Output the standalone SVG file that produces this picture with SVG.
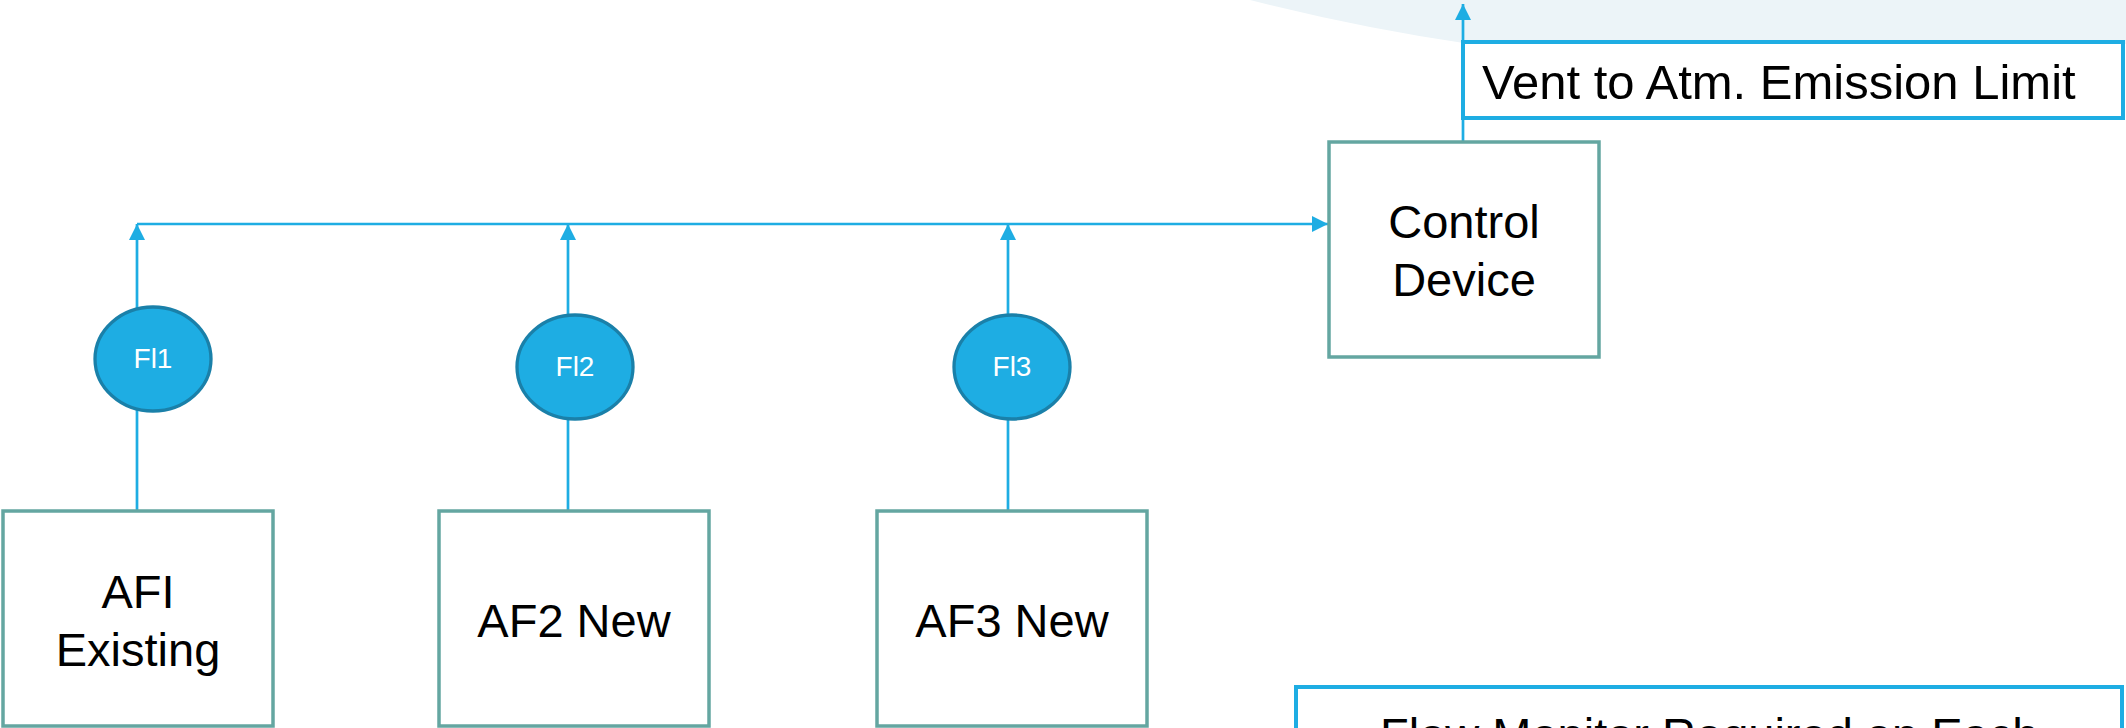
<svg xmlns="http://www.w3.org/2000/svg" width="2126" height="728" viewBox="0 0 2126 728">
  <style>
    .box { fill: #ffffff; stroke: #64a6a1; stroke-width: 3.5; }
    .note { fill: #ffffff; stroke: #1eade3; stroke-width: 4; }
    .meter { fill: #1eade3; stroke: #1a80a9; stroke-width: 3.3; }
    .flow { fill: none; stroke: #1eade3; stroke-width: 2.7; }
    .lbl { font-family: "Liberation Sans", Arial, sans-serif; font-size: 47px; fill: #000000; text-anchor: middle; }
    .note-txt { font-family: "Liberation Sans", Arial, sans-serif; font-size: 49px; fill: #000000; }
    .bullet-txt { font-family: "Liberation Sans", Arial, sans-serif; font-size: 47px; fill: #000000; }
    .meter-txt { font-family: "Liberation Sans", Arial, sans-serif; font-size: 28px; fill: #ffffff; text-anchor: middle; }
  </style>
  <defs>
    <marker id="arrow" viewBox="0 0 10 10" refX="10" refY="5" markerWidth="16" markerHeight="16" markerUnits="userSpaceOnUse" orient="auto">
      <path d="M0,0 L10,5 L0,10 z" fill="#1eade3"/>
    </marker>
  </defs>

  <rect width="2126" height="728" fill="#ffffff"/>
  <!-- soft background swoosh, top right -->
  <path d="M1250,0 Q1360,28 1470,44 L2126,44 L2126,0 Z" fill="#ecf4f8"/>

  <g id="connectors">
    <line class="flow" x1="137" y1="511" x2="137" y2="224" marker-end="url(#arrow)"/>
    <line class="flow" x1="568" y1="511" x2="568" y2="224" marker-end="url(#arrow)"/>
    <line class="flow" x1="1008" y1="511" x2="1008" y2="224" marker-end="url(#arrow)"/>
    <line class="flow" x1="137" y1="224" x2="1328" y2="224" marker-end="url(#arrow)"/>
    <line class="flow" x1="1463" y1="142" x2="1463" y2="4" marker-end="url(#arrow)"/>
  </g>

  <g id="vent-limit">
    <rect class="note" x="1463" y="42" width="660" height="76"/>
    <text class="note-txt" x="1482" y="99">Vent to Atm. Emission Limit</text>
  </g>

  <g id="control-device">
    <rect class="box" x="1329" y="142" width="270" height="215"/>
    <text class="lbl" x="1464" y="238">Control</text>
    <text class="lbl" x="1464" y="296">Device</text>
  </g>

  <g id="af1">
    <rect class="box" x="3" y="511" width="270" height="215"/>
    <text class="lbl" x="138" y="608">AFI</text>
    <text class="lbl" x="138" y="666">Existing</text>
  </g>

  <g id="af2">
    <rect class="box" x="439" y="511" width="270" height="215"/>
    <text class="lbl" x="574" y="637">AF2 New</text>
  </g>

  <g id="af3">
    <rect class="box" x="877" y="511" width="270" height="215"/>
    <text class="lbl" x="1012" y="637">AF3 New</text>
  </g>

  <g id="fl1">
    <ellipse class="meter" cx="153" cy="359" rx="58" ry="52"/>
    <text class="meter-txt" x="153" y="368">Fl1</text>
  </g>

  <g id="fl2">
    <ellipse class="meter" cx="575" cy="367" rx="58" ry="52"/>
    <text class="meter-txt" x="575" y="376">Fl2</text>
  </g>

  <g id="fl3">
    <ellipse class="meter" cx="1012" cy="367" rx="58" ry="52"/>
    <text class="meter-txt" x="1012" y="376">Fl3</text>
  </g>

  <g id="monitor-note">
    <rect class="note" x="1296" y="687" width="826" height="120"/>
    <text class="bullet-txt" x="1326" y="751">•</text>
    <text class="bullet-txt" x="1380" y="751">Flow Monitor Required on Each</text>
  </g>
</svg>
